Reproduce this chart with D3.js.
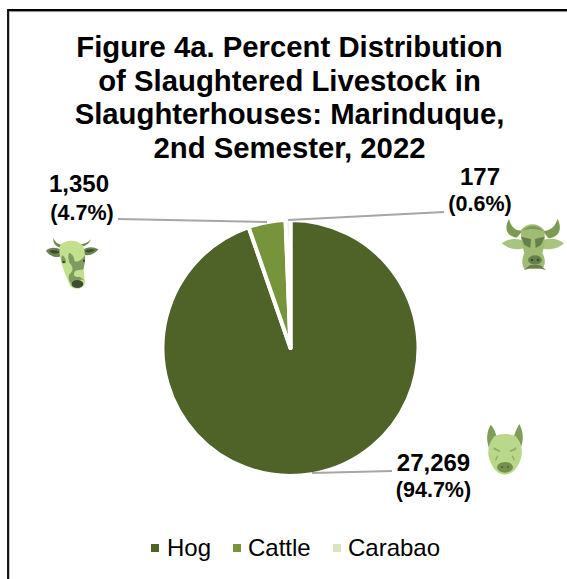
<!DOCTYPE html>
<html><head><meta charset="utf-8">
<script src="https://cdn.jsdelivr.net/npm/d3@7"></script>
<style>html,body{margin:0;padding:0;background:#fff;overflow:hidden}svg{display:block}text{font-family:"Liberation Sans",Arial,sans-serif;fill:#000}</style>
</head><body><svg id="c" width="567" height="579"></svg>
<script>
const categories=["Hog","Cattle","Carabao"];
const values=[27269,1350,177];
const percents=["94.7%","4.7%","0.6%"];
const colors=["#4f6228","#77933c","#d7e4bd"];
const titleLines=["Figure 4a. Percent Distribution","of Slaughtered Livestock in","Slaughterhouses: Marinduque,","2nd Semester, 2022"];
const fmt=d3.format(",");
const svg=d3.select("#c");
svg.append("path").attr("d","M8,600V11.3H567").attr("fill","none").attr("stroke","#8c8c8c").attr("stroke-width",1).attr("transform","translate(1,0.3)");
svg.append("path").attr("d","M8,600V10H567").attr("fill","none").attr("stroke","#000").attr("stroke-width",1.8);
svg.append("g").selectAll("text").data(titleLines).join("text").attr("x",289.5).attr("y",(d,i)=>57+i*33.6).attr("text-anchor","middle").attr("font-size",29.3).attr("font-weight","bold").text(d=>d);
const cx=290.5,cy=348,R=128;
const pie=d3.pie().sort(null).value(d=>d);
const arc=d3.arc().innerRadius(0).outerRadius(R);
const arcs=pie(values);
svg.append("g").attr("transform",`translate(${cx},${cy})`).selectAll("path").data(arcs).join("path").attr("d",arc).attr("fill",(d,i)=>colors[i]).attr("stroke","#fff").attr("stroke-width",4).attr("stroke-linejoin","round");
const labels=[{ax:312,ay:473,bx:392,by:471,tx:433.5,ty:471,py:497},{ax:267,ay:222,bx:118,by:219,tx:79,ty:192,py:220},{ax:288,ay:220,bx:444,by:212,tx:480,ty:185,py:211}];
svg.append("g").selectAll("line").data(labels).join("line").attr("x1",d=>d.ax).attr("y1",d=>d.ay).attr("x2",d=>d.bx).attr("y2",d=>d.by).attr("stroke","#a6a6a6").attr("stroke-width",2);
const lab=svg.append("g").selectAll("g").data(labels).join("g");
lab.append("text").attr("x",d=>d.tx).attr("y",d=>d.ty).attr("text-anchor","middle").attr("font-size",24).attr("font-weight","bold").text((d,i)=>fmt(values[i]));
lab.append("text").attr("x",(d,i)=>d.tx+(i===1?3:0)).attr("y",d=>d.py).attr("text-anchor","middle").attr("font-size",21.5).attr("font-weight","bold").text((d,i)=>`(${percents[i]})`);
const legX=[151,233,333],legT=[167,248,348];
const leg=svg.append("g").selectAll("g").data(categories).join("g");
leg.append("rect").attr("x",(d,i)=>legX[i]).attr("y",544).attr("width",8).attr("height",8).attr("fill",(d,i)=>colors[i]);
leg.append("text").attr("x",(d,i)=>legT[i]).attr("y",556).attr("font-size",24).attr("fill","#111").text(d=>d);
function icon(x,y,parts){const g=svg.append("g").attr("transform",`translate(${x},${y}) scale(${1/3})`);
 parts.forEach(p=>g.append("path").attr("d",p[0]).attr("fill",p[1]));}
const dot=(x,y,rx,ry)=>`M${x-rx},${y}a${rx},${ry} 0 1,0 ${2*rx},0a${rx},${ry} 0 1,0 ${-2*rx},0Z`;
icon(35,230,[
 ["M55,25C53,42 65,52 82,54L80,45C68,43 60,36 55,25ZM168,28C162,42 150,50 133,52L137,43C150,42 160,37 168,28Z","#6f8a52"],
 ["M33,62C45,50 65,52 80,60L82,76C70,86 45,82 33,62ZM190,58C175,48 155,50 142,60L140,73C155,80 178,75 190,58Z","#6e8350"],
 ["M42,63C52,58 65,60 75,66C65,74 50,72 42,63ZM180,60C170,56 157,58 148,64C158,70 170,67 180,60Z","#3f4f2a"],
 ["M76,45C90,28 125,28 142,45C154,65 150,95 146,115C146,135 150,150 150,160C147,180 112,182 104,165C98,145 88,130 83,110C76,90 70,65 76,45Z","#c3e08f"],
 ["M103,68C112,72 118,82 118,92C128,100 140,90 150,76C152,90 148,105 145,118C132,122 122,118 118,128C112,140 125,142 134,140L148,150C130,148 115,152 106,160C100,145 98,135 108,128C118,118 110,105 103,98C100,88 98,76 103,68ZM81,75C90,80 95,90 92,100L82,100C78,92 78,82 81,75Z","#7f9b60"],
 [dot(86,96,4,3)+dot(147,92,3,3),"#2e3a22"],
 [dot(127,162,18,12),"#3f4a33"]
]);
icon(495,215,[
 ["M42,12C26,40 35,64 65,68L84,46C60,50 48,34 42,12ZM188,12C204,45 190,68 160,70L143,48C165,48 180,36 188,12Z","#7d9a55"],
 ["M20,85C40,70 65,68 88,78L88,98C65,108 40,102 20,85ZM207,85C185,68 160,68 138,78L138,98C160,108 190,102 207,85Z","#a9c47f"],
 ["M78,45C95,22 130,22 147,45C152,65 148,95 142,115C152,130 152,150 142,162L88,162C80,150 80,130 88,115C83,95 76,65 78,45Z","#a0bc74"],
 ["M82,47C100,28 128,28 144,48C125,40 100,40 82,47Z","#7d9a55"],
 ["M78,65L108,72L106,99L88,90ZM149,65L120,72L122,99L138,90Z","#66804b"],
 [dot(120,135,21,14),"#66804b"],
 [dot(111,135,4,4)+dot(129,135,4,4),"#3c4a2c"],
 ["M86,166L105,150L135,150L154,166L135,160L105,160Z","#66804b"]
]);
icon(480,418,[
 ["M32,20C20,40 18,65 27,90L50,60C48,45 42,30 32,20ZM118,18C130,40 132,65 122,90L100,60C105,45 110,30 118,18Z","#7f9c58"],
 ["M43,55C60,46 90,46 107,55C127,75 130,105 120,130C110,150 102,167 75,170C48,167 40,150 28,125C20,100 26,75 43,55Z","#b9d889"],
 [dot(75,148,24,16),"#74904f"],
 [dot(66,147,3,3)+dot(84,147,3,3),"#4f6228"],
 ["M42,88L62,98L58,102L40,94ZM108,88L88,98L92,102L110,94ZM55,115L48,128L45,125L52,112ZM95,115L102,128L105,125L98,112Z","#8fae68"]
]);
</script></body></html>
